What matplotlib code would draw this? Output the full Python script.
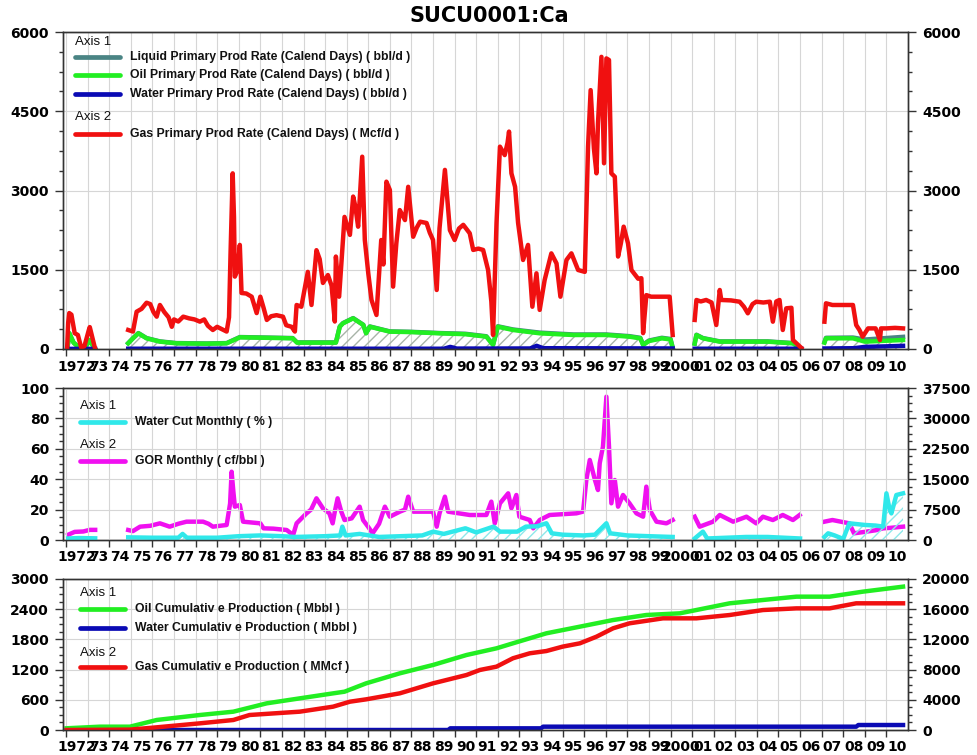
import numpy as np
import matplotlib
matplotlib.use("Agg")
import matplotlib.pyplot as plt
from matplotlib.lines import Line2D
from matplotlib.ticker import MultipleLocator

nan = np.nan

# ==============================
# DATOS
# ==============================
# --- panel 1: tasas ---
gas_years = [1972.05, 1972.1, 1972.15, 1972.25, 1972.4, 1972.55, 1972.7, 1972.85, 1973.05, 1973.1, 1973.2, 1973.35, nan,
             1974.88, 1975.1, 1975.27, 1975.5, 1975.73, 1975.9, 1976.05, 1976.2, 1976.35, 1976.55, 1976.75, 1976.9,
             1977.0, 1977.2, 1977.43, 1977.7, 1977.95, 1978.2, 1978.4, 1978.57, 1978.8, 1979.0, 1979.2, 1979.44,
             1979.55, 1979.62, 1979.72, 1979.78, 1979.82, 1979.95, 1980.05, 1980.13, 1980.35, 1980.6, 1980.83,
             1981.0, 1981.15, 1981.3, 1981.5, 1981.75, 1982.05, 1982.2, 1982.45, 1982.6, 1982.68, 1982.9, 1983.2,
             1983.37, 1983.6, 1983.75, 1983.9, 1984.13, 1984.3, 1984.45, 1984.5, 1984.65, 1984.9, 1985.15, 1985.3,
             1985.4, 1985.53, 1985.72, 1985.84, 1986.0, 1986.15, 1986.38, 1986.6, 1986.7, 1986.84, 1987.0, 1987.15,
             1987.3, 1987.46, 1987.7, 1987.85, 1988.08, 1988.25, 1988.4, 1988.7, 1988.85, 1989.0, 1989.17, 1989.3,
             1989.55, 1989.78, 1990.0, 1990.2, 1990.4, 1990.7, 1990.86, 1991.1, 1991.32, 1991.55, 1991.7, 1991.78,
             1991.94, 1992.1, 1992.32, 1992.45, 1992.52, 1992.63, 1992.8, 1992.94, 1993.17, 1993.4, 1993.6, 1993.79,
             1993.94, 1994.17, 1994.48, 1994.72, 1994.9, 1995.18, 1995.41, 1995.72, 1996.03, 1996.18, 1996.3,
             1996.45, 1996.57, 1996.64, 1996.8, 1996.92, 1997.03, 1997.15, 1997.26, 1997.42, 1997.57, 1997.7,
             1997.83, 1998.03, 1998.19, 1998.5, 1998.65, 1998.73, 1998.88, 1999.1, 1999.5, 1999.96, 2000.1, nan,
             2001.12, 2001.2, 2001.4, 2001.65, 2001.9, 2002.12, 2002.28, 2002.35, 2002.8, 2003.2, 2003.4, 2003.58,
             2003.8, 2003.97, 2004.3, 2004.6, 2004.74, 2004.9, 2005.05, 2005.2, 2005.36, 2005.6, 2005.67, 2005.85,
             2006.06, nan,
             2007.13, 2007.2, 2007.5, 2008.0, 2008.45, 2008.6, 2008.75, 2008.9, 2009.15, 2009.5, 2009.7, 2009.75,
             2010.0, 2010.4, 2010.77]
gas_rate = [0, 500, 680, 650, 300, 265, 30, 50, 350, 415, 250, 0, nan,
            360, 330, 706, 760, 876, 850, 700, 612, 833, 700, 600, 420,
            560, 520, 612, 580, 560, 518, 560, 440, 360, 420, 380, 330,
            600, 1800, 3325, 2500, 1370, 1500, 1970, 1060, 1050, 990, 680,
            990, 780, 550, 620, 640, 612, 450, 420, 330, 833, 800, 1460,
            833, 1870, 1700, 1250, 1400, 1200, 520, 1750, 990, 2500, 2160, 2885,
            2700, 2315, 3640, 2063, 1433, 928, 644, 2063, 1600, 3167, 3010, 1180,
            2000, 2630, 2440, 3070, 2125, 2300, 2410, 2385, 2200, 2063, 1117, 2285,
            3390, 2250, 2063, 2280, 2350, 2190, 1875, 1900, 1875, 1495, 900, 265,
            2385, 3830, 3670, 3900, 4115, 3325, 3070, 2385, 1685, 1970, 800, 1433,
            740, 1306, 1810, 1620, 990, 1685, 1810, 1495, 1460, 3830, 4900,
            3800, 3325, 4270, 5530, 3515, 5500, 5470, 3325, 3260, 1750, 2000,
            2315, 2000, 1495, 1330, 1340, 300, 1020, 990, 990, 990, 265, nan,
            550, 928, 900, 928, 880, 454, 1117, 928, 920, 895, 800, 676,
            850, 895, 880, 895, 517, 900, 928, 360, 770, 780, 170, 100,
            20, nan,
            517, 865, 833, 833, 833, 454, 360, 233, 390, 390, 170, 390,
            390, 400, 390]

oil_years = [1972.05, 1972.1, 1972.15, 1972.35, 1972.6, 1972.9, 1973.1, 1973.25, 1973.35, nan,
             1974.88, 1975.1, 1975.35, 1975.73, 1976.35, 1977.12, 1978.5, 1979.44, 1980.05, 1981.5, 1982.5,
             1982.7, 1984.5, 1984.68, 1984.83, 1985.3, 1985.77, 1985.9, 1986.07, 1987.0, 1988.0, 1989.3,
             1990.5, 1991.47, 1991.78, 1992.0, 1992.7, 1993.94, 1995.5, 1997.03, 1998.1, 1998.6, 1998.73,
             1999.0, 1999.6, 2000.0, 2000.1, nan,
             2001.12, 2001.2, 2001.5, 2002.28, 2004.5, 2005.67, 2006.0, nan,
             2007.13, 2007.2, 2008.45, 2009.0, 2010.77]
oil_rate = [0, 120, 300, 120, 30, 40, 170, 60, 0, nan,
            107, 200, 297, 202, 139, 107, 100, 107, 221, 210, 202,
            120, 120, 422, 486, 580, 454, 297, 422, 328, 320, 297,
            280, 233, 75, 422, 360, 297, 265, 265, 233, 202, 75,
            150, 202, 180, 20, nan,
            100, 265, 202, 139, 139, 107, 20, nan,
            120, 202, 202, 139, 170]
# liquido = petroleo + agua (mismos tiempos que oil_years)
liquid_rate = [0, 120, 300, 120, 30, 40, 170, 60, 0, nan,
               112, 205, 302, 207, 144, 112, 105, 112, 226, 215, 207,
               125, 125, 427, 491, 585, 459, 302, 427, 333, 325, 302,
               288, 241, 83, 430, 370, 310, 275, 275, 243, 212, 85,
               160, 212, 190, 30, nan,
               105, 270, 207, 144, 144, 112, 25, nan,
               130, 212, 217, 179, 230]

water_years = [1972.05, 1973.35, nan,
               1974.88, 1989.5, 1989.8, 1990.1, 1993.5, 1993.8, 1994.1, 2000.1, nan,
               2001.12, 2006.06, nan,
               2007.13, 2008.5, 2009.0, 2010.0, 2010.77]
water_rate = [2, 2, nan,
              5, 5, 40, 8, 10, 60, 15, 10, nan,
              5, 5, nan,
              10, 15, 40, 50, 60]

# --- panel 2: corte de agua y GOR ---
wcut_years = [1972.1, 1972.6, 1973.35, nan,
              1974.88, 1976.0, 1977.2, 1977.4, 1977.6, 1979.0, 1980.0, 1981.0, 1982.0, 1982.6, 1984.0, 1984.7,
              1984.8, 1984.95, 1985.6, 1986.5, 1987.5, 1988.5, 1989.0, 1989.5, 1990.5, 1991.0, 1991.8, 1992.1,
              1992.9, 1993.3, 1993.8, 1994.25, 1994.5, 1995.0, 1995.95, 1996.5, 1997.03, 1997.2, 1998.0, 1999.0,
              2000.1, nan,
              2001.12, 2001.5, 2001.7, 2003.5, 2004.5, 2006.0, nan,
              2007.13, 2007.3, 2007.6, 2008.0, 2008.28, 2008.6, 2009.0, 2009.5, 2009.85, 2010.0, 2010.15,
              2010.23, 2010.46, 2010.77]
wcut = [1.0, 1.3, 1.1, nan,
        1.75, 1.5, 1.5, 4, 1.5, 1.5, 2.5, 3, 2.5, 2, 2.5, 3,
        8.8, 3, 4, 2, 2.5, 3, 5.5, 4, 7.7, 5, 8.8, 5.5,
        5.5, 8.8, 9, 11, 4.4, 3.5, 3, 3.5, 11, 4.4, 3, 2.5,
        2, nan,
        1, 5.5, 1, 2, 2, 1, nan,
        2, 4.4, 3, 0.7, 11, 10.5, 9.9, 9.5, 8.8, 30.7, 20,
        17.5, 29.6, 30.7]

gor_years = [1972.1, 1972.4, 1972.8, 1973.1, 1973.35, nan,
             1974.88, 1975.1, 1975.43, 1975.9, 1976.35, 1976.8, 1977.2, 1977.58, 1978.35, 1978.6, 1978.8,
             1979.44, 1979.6, 1979.67, 1979.75, 1979.82, 1980.05, 1980.2, 1981.0, 1981.15, 1981.6, 1982.22,
             1982.52, 1982.68, 1983.14, 1983.35, 1983.6, 1983.9, 1984.2, 1984.35, 1984.45, 1984.58, 1984.75,
             1984.9, 1985.23, 1985.6, 1985.76, 1985.99, 1986.2, 1986.5, 1986.77, 1987.0, 1987.46, 1987.7,
             1987.85, 1988.08, 1989.0, 1989.17, 1989.3, 1989.55, 1989.7, 1990.7, 1991.47, 1991.7, 1991.86,
             1992.1, 1992.48, 1992.63, 1992.86, 1993.0, 1993.48, 1993.64, 1993.94, 1994.4, 1995.64, 1995.95,
             1996.1, 1996.26, 1996.5, 1996.64, 1996.72, 1996.87, 1997.03, 1997.15, 1997.26, 1997.42, 1997.57,
             1997.8, 1998.1, 1998.42, 1998.73, 1998.88, 1999.04, 1999.35, 1999.81, 2000.1, nan,
             2001.12, 2001.35, 2001.97, 2002.28, 2002.9, 2003.52, 2003.97, 2004.28, 2004.74, 2005.2, 2005.67,
             2005.98, nan,
             2007.13, 2007.5, 2008.28, 2008.5, 2009.0, 2009.5, 2009.85, 2010.2, 2010.77]
gor = [1300, 2000, 2100, 2500, 2500, nan,
       2467, 2200, 3290, 3500, 4110, 3290, 4000, 4520, 4520, 4000, 3290,
       3700, 9000, 16850, 12000, 8220, 8630, 4520, 4110, 2880, 2800, 2467,
       1233, 4110, 6580, 7500, 10280, 7810, 6580, 4110, 7000, 10280, 7000,
       4930, 5340, 8220, 4930, 3290, 1650, 4000, 8220, 5750, 6990, 7500,
       10690, 6990, 6990, 3290, 6580, 10690, 6990, 6170, 6170, 9460, 4110,
       9050, 11510, 7810, 11100, 5750, 4930, 2880, 4930, 6170, 6580, 7000,
       14800, 19740, 14800, 12330, 18920, 23020, 35350, 23020, 9050, 14800, 8220,
       11100, 9050, 6580, 5750, 13160, 7400, 4520, 4110, 4930, nan,
       5750, 3290, 4520, 6170, 4520, 5750, 4110, 5750, 4930, 6170, 4930,
       6170, nan,
       4520, 4930, 4110, 1650, 2000, 2400, 2880, 3000, 3290]

# --- panel 3: acumulados ---
oilcum_years = [1972.03, 1973.57, 1974.96, 1976.2, 1978.2, 1979.75, 1981.3, 1982.83, 1984.37, 1984.9, 1985.9,
                1987.46, 1989.0, 1990.55, 1991.94, 1992.7, 1994.25, 1995.8, 1997.34, 1998.88, 2000.43, 2001.2,
                2002.74, 2004.28, 2005.83, 2007.37, 2008.9, 2010.77]
oil_cum = [34, 66, 66, 199, 298, 364, 530, 629, 728, 761, 927,
           1126, 1292, 1490, 1623, 1722, 1921, 2053, 2185, 2285, 2318, 2384,
           2517, 2583, 2649, 2649, 2748, 2848]

watercum_years = [1972.03, 1989.7, 1989.8, 1994.0, 1994.1, 2008.6, 2008.7, 2010.77]
water_cum = [0, 0, 33, 33, 66, 66, 99, 99]

gascum_years = [1972.03, 1974.96, 1976.2, 1978.2, 1979.75, 1980.5, 1982.83, 1984.37, 1985.15, 1985.9, 1987.46,
                1989.0, 1990.55, 1991.17, 1991.94, 1992.7, 1993.48, 1994.25, 1995.0, 1995.8, 1996.57, 1997.34,
                1998.1, 1999.65, 2001.2, 2002.74, 2004.28, 2005.83, 2007.37, 2008.6, 2010.77]
gas_cum = [0, 50, 353, 883, 1325, 1987, 2428, 3090, 3750, 4060, 4857,
           6180, 7285, 7950, 8390, 9500, 10160, 10460, 11040, 11480, 12360, 13470,
           14130, 14790, 14790, 15230, 15890, 16110, 16110, 16780, 16780]

year_ticks = list(range(1972, 2011))
year_labels = ["1972"] + ["%02d" % (y % 100) for y in range(1973, 2000)] + ["2000"] + \
              ["%02d" % (y % 100) for y in range(2001, 2011)]

# ==============================
# ESTILO
# ==============================
C_GAS = "#f01010"
C_OIL = "#22ee22"
C_WAT = "#0a0ab4"
C_LIQ = "#4a8484"
C_WCUT = "#30e8ea"
C_GOR = "#f010f0"
LW = 3.2
TICKFONT = dict(family="DejaVu Sans", weight="bold", size=10)

W, H = 978, 755
fig = plt.figure(figsize=(W / 100, H / 100), dpi=100)


def add_panel(top_px, bot_px):
    left, right = 63, 908
    return fig.add_axes([left / W, 1 - bot_px / H, (right - left) / W, (bot_px - top_px) / H])


def style(ax, ax2, ylim1, maj1, min1, ylim2, maj2, min2, xpad):
    ax.set_xlim(1971.86, 2011.0)
    ax.set_ylim(*ylim1)
    ax2.set_ylim(*ylim2)
    ax.yaxis.set_major_locator(MultipleLocator(maj1))
    ax.yaxis.set_minor_locator(MultipleLocator(min1))
    ax2.yaxis.set_major_locator(MultipleLocator(maj2))
    ax2.yaxis.set_minor_locator(MultipleLocator(min2))
    ax.set_xticks(year_ticks)
    ax.set_xticklabels([])
    ax.set_xticks([y + 0.5 for y in year_ticks], year_labels, minor=True)
    ax.tick_params(axis="x", which="major", direction="out", length=5, width=1, color="#333333")
    ax.tick_params(axis="x", which="minor", length=0, pad=xpad)
    for a in (ax, ax2):
        a.tick_params(axis="y", which="major", direction="out", length=6, width=1, color="#333333", pad=4)
        a.tick_params(axis="y", which="minor", direction="out", length=3, width=1, color="#333333")
        for lab in a.get_yticklabels():
            lab.set_fontproperties(matplotlib.font_manager.FontProperties(**TICKFONT))
        for sp in a.spines.values():
            sp.set_color("#333333")
            sp.set_linewidth(1)
    for lab in ax.get_xticklabels(minor=True):
        lab.set_fontproperties(matplotlib.font_manager.FontProperties(**TICKFONT))
    ax.grid(True, which="major", color="#d6d6d6", linewidth=0.8)
    ax.set_axisbelow(True)


def legend(x_px, rows):
    # rows: (y_px, texto, color o None para encabezado)
    for y, txt, col in rows:
        yf = 1 - y / H
        if col is None:
            fig.text(x_px / W, yf, txt, fontsize=9.5, family="Liberation Sans",
                     va="center", ha="left", color="#111111")
        else:
            fig.add_artist(Line2D([(x_px) / W, (x_px + 45) / W], [yf, yf], color=col,
                                  linewidth=3.4, solid_capstyle="round"))
            fig.text((x_px + 55) / W, yf, txt, fontsize=8.8, family="Liberation Sans",
                     weight="bold", va="center", ha="left", color="#111111")


# ==============================
# PANEL 1: TASAS
# ==============================
ax1 = add_panel(32, 349)
ax1b = ax1.twinx()
ax1.fill_between(oil_years, 0, oil_rate, facecolor="none", edgecolor="#a8b4a8", hatch="///", linewidth=0)
ax1.plot(oil_years, liquid_rate, color=C_LIQ, lw=LW)
ax1.plot(oil_years, oil_rate, color=C_OIL, lw=LW)
ax1.plot(water_years, water_rate, color=C_WAT, lw=LW)
ax1b.plot(gas_years, gas_rate, color=C_GAS, lw=LW)
style(ax1, ax1b, (0, 6000), 1500, 375, (0, 6000), 1500, 375, 8)
fig.text(0.5, 1 - 16 / H, "SUCU0001:Ca", ha="center", va="center", fontsize=15,
         family="DejaVu Sans", weight="bold")
legend(75, [(42, "Axis 1", None),
            (57, "Liquid Primary Prod Rate (Calend Days) ( bbl/d )", C_LIQ),
            (75, "Oil Primary Prod Rate (Calend Days) ( bbl/d )", C_OIL),
            (94, "Water Primary Prod Rate (Calend Days) ( bbl/d )", C_WAT),
            (117, "Axis 2", None),
            (134, "Gas Primary Prod Rate (Calend Days) ( Mcf/d )", C_GAS)])

# ==============================
# PANEL 2: CORTE DE AGUA / GOR
# ==============================
ax2 = add_panel(388, 540)
ax2b = ax2.twinx()
ax2b.plot(gor_years, gor, color=C_GOR, lw=LW)
ax2.fill_between(wcut_years, 0, wcut, facecolor="none", edgecolor="#8ee8ea", hatch="///", linewidth=0)
ax2.plot(wcut_years, wcut, color=C_WCUT, lw=LW)
ax2.set_zorder(ax2b.get_zorder() + 1)
ax2.patch.set_visible(False)
style(ax2, ax2b, (0, 100), 20, 5, (0, 37500), 7500, 1875, 7)
legend(80, [(406, "Axis 1", None),
            (422, "Water Cut Monthly ( % )", C_WCUT),
            (445, "Axis 2", None),
            (461, "GOR Monthly ( cf/bbl )", C_GOR)])

# ==============================
# PANEL 3: ACUMULADOS
# ==============================
ax3 = add_panel(579, 730)
ax3b = ax3.twinx()
ax3b.plot(gascum_years, gas_cum, color=C_GAS, lw=LW)
ax3.plot(watercum_years, water_cum, color=C_WAT, lw=LW)
ax3.plot(oilcum_years, oil_cum, color=C_OIL, lw=LW)
style(ax3, ax3b, (0, 3000), 600, 150, (0, 20000), 4000, 1000, 7)
legend(80, [(593, "Axis 1", None),
            (609, "Oil Cumulativ e Production ( Mbbl )", C_OIL),
            (628, "Water Cumulativ e Production ( Mbbl )", C_WAT),
            (653, "Axis 2", None),
            (667, "Gas Cumulativ e Production ( MMcf )", C_GAS)])

fig.savefig("out.png", dpi=100)
